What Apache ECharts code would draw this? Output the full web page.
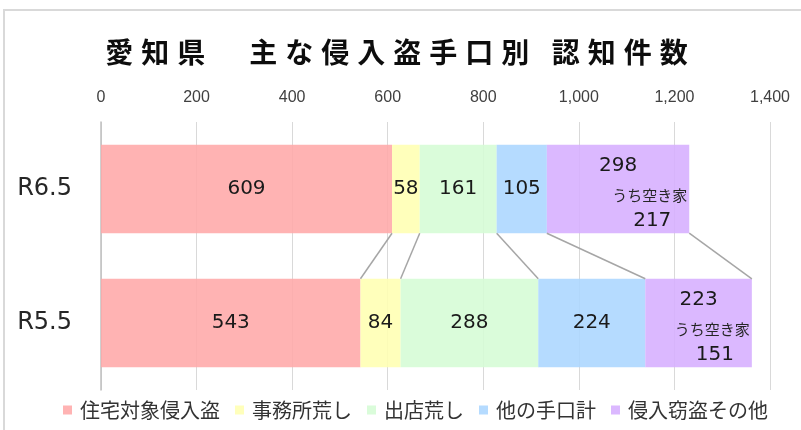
<!DOCTYPE html>
<html>
<head>
<meta charset="utf-8">
<script src="https://cdn.jsdelivr.net/npm/echarts@6/dist/echarts.min.js"></script>
<style>
html,body{margin:0;padding:0;background:#fff;}
#chart{width:801px;height:430px;}
</style>
</head>
<body>
<div id="chart"></div>
<script>
// ---- data ----
const titleText = '愛知県　主な侵入盗手口別 認知件数';
const categories = ['R6.5', 'R5.5'];
const seriesNames = ['住宅対象侵入盗', '事務所荒し', '出店荒し', '他の手口計', '侵入窃盗その他'];
const housing = [609, 543];
const office = [58, 84];
const store = [161, 288];
const otherMethods = [105, 224];
const otherBurglary = [298, 223];
const vacantHouse = [217, 151];
const vacantLabel = 'うち空き家';
const xTicks = [0, 200, 400, 600, 800, 1000, 1200, 1400];

// ---- styling ----
const seriesValues = [housing, office, store, otherMethods, otherBurglary];
const colors = [
  'rgba(255,169,169,0.88)',
  'rgba(255,255,178,0.88)',
  'rgba(213,252,213,0.88)',
  'rgba(171,214,255,0.88)',
  'rgba(214,174,255,0.88)'
];
const BAR_RATIO = 0.66;

// letter spacing for the title (canvas letterSpacing, keyed by a marker family name)
(function () {
  const proto = CanvasRenderingContext2D.prototype;
  const desc = Object.getOwnPropertyDescriptor(proto, 'font');
  if (!desc || !('letterSpacing' in proto)) return;
  Object.defineProperty(proto, 'font', {
    configurable: true,
    get: function () { return desc.get.call(this); },
    set: function (v) {
      desc.set.call(this, v);
      this.letterSpacing = /TitleSpacing/.test(v) ? '8px' : '0px';
    }
  });
})();

// cumulative boundaries per category
const cum = categories.map((c, ci) => {
  let s = 0;
  return seriesValues.map(arr => (s += arr[ci]));
});

const chart = echarts.init(document.getElementById('chart'), null, {renderer: 'canvas'});

const barSeries = seriesNames.map((name, i) => ({
  name: name,
  type: 'bar',
  stack: 'total',
  barWidth: (BAR_RATIO * 100) + '%',
  data: seriesValues[i],
  itemStyle: {color: colors[i]},
  label: {
    show: i !== 4,
    position: 'inside',
    formatter: '{c}',
    color: '#1a1a1a',
    fontSize: 20,
    fontFamily: 'DejaVu Sans'
  },
  emphasis: {disabled: true},
  z: 2
}));

// connector lines between the two bars
const connectorData = seriesValues.map((arr, i) => [cum[0][i], 0, cum[1][i], 1]);

// labels of last segment (total + vacant houses)
const purpleData = categories.map((c, ci) => [cum[ci][3], ci, cum[ci][4], otherBurglary[ci], vacantHouse[ci]]);

const option = {
  animation: false,
  backgroundColor: '#fff',
  color: colors,
  title: {
    text: titleText,
    left: 'center',
    top: 29,
    textStyle: {
      fontSize: 28,
      fontWeight: 'bold',
      color: '#0d0d0d',
      fontFamily: '"Noto Sans CJK JP", TitleSpacing'
    }
  },
  graphic: [{
    type: 'rect',
    shape: {x: 4, y: 10, width: 1000, height: 1000},
    style: {fill: 'none', stroke: '#d9d9d9', lineWidth: 2},
    z: -10,
    silent: true
  }],
  legend: {
    data: seriesNames,
    top: 395,
    left: 58,
    icon: 'rect',
    itemWidth: 9,
    itemHeight: 9,
    itemGap: 15,
    textStyle: {fontSize: 20, color: '#333', fontFamily: 'Noto Sans CJK JP', padding: [0, 0, 0, 3]}
  },
  grid: {left: 101, right: 31, top: 122, bottom: 40, containLabel: false},
  xAxis: {
    type: 'value',
    position: 'top',
    min: xTicks[0],
    max: xTicks[xTicks.length - 1],
    interval: xTicks[1] - xTicks[0],
    axisLine: {show: false},
    axisTick: {show: false},
    axisLabel: {
      margin: 16,
      fontSize: 16,
      color: '#404040',
      fontFamily: 'Liberation Sans',
      formatter: v => v.toLocaleString('en-US')
    },
    splitLine: {show: true, lineStyle: {color: '#d9d9d9', width: 1}}
  },
  yAxis: {
    type: 'category',
    inverse: true,
    data: categories,
    axisLine: {show: true, lineStyle: {color: '#bfbfbf', width: 1.5}},
    axisTick: {show: false},
    axisLabel: {margin: 29, fontSize: 24, color: '#262626', fontFamily: 'DejaVu Sans'}
  },
  series: barSeries.concat([
    {
      type: 'custom',
      name: 'connectors',
      silent: true,
      encode: {x: [0, 2], y: [1, 3]},
      data: connectorData,
      z: 3,
      renderItem: function (params, api) {
        const barH = api.size([0, 1])[1] * BAR_RATIO;
        const p1 = api.coord([api.value(0), api.value(1)]);
        const p2 = api.coord([api.value(2), api.value(3)]);
        return {
          type: 'line',
          shape: {x1: p1[0], y1: p1[1] + barH / 2, x2: p2[0], y2: p2[1] - barH / 2},
          style: {stroke: '#a6a6a6', lineWidth: 1.5}
        };
      }
    },
    {
      type: 'custom',
      name: 'purpleLabels',
      silent: true,
      encode: {x: [0, 2], y: 1},
      data: purpleData,
      z: 5,
      renderItem: function (params, api) {
        const barH = api.size([0, 1])[1] * BAR_RATIO;
        const ps = api.coord([api.value(0), api.value(1)]);
        const pe = api.coord([api.value(2), api.value(1)]);
        const top = ps[1] - barH / 2;
        const midX = (ps[0] + pe[0]) / 2;
        return {
          type: 'group',
          children: [
            {type: 'text', x: midX, y: top + 21,
              style: {text: String(api.value(3)), fill: '#1a1a1a', font: '20px "DejaVu Sans"', align: 'center', verticalAlign: 'middle'}},
            {type: 'text', x: pe[0] - 2, y: top + 51,
              style: {text: vacantLabel, fill: '#262626', font: '15px "Noto Sans CJK JP"', align: 'right', verticalAlign: 'middle'}},
            {type: 'text', x: pe[0] - 37, y: top + 76,
              style: {text: String(api.value(4)), fill: '#1a1a1a', font: '20px "DejaVu Sans"', align: 'center', verticalAlign: 'middle'}}
          ]
        };
      }
    }
  ])
};

chart.setOption(option);
</script>
</body>
</html>
